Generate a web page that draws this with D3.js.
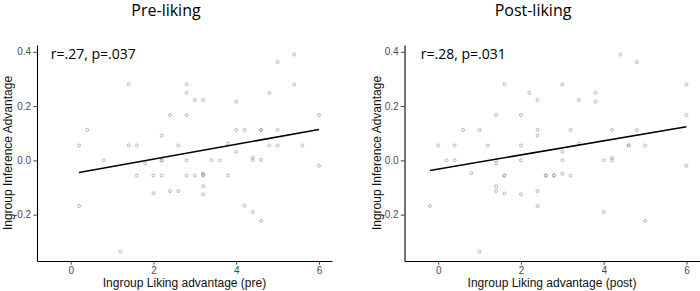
<!DOCTYPE html>
<html>
<head>
<meta charset="utf-8">
<script src="https://cdn.jsdelivr.net/npm/d3@7"></script>
<style>
  html, body { margin: 0; padding: 0; background: #fff; }
  svg { display: block; }
</style>
</head>
<body>
<svg id="chart" width="700" height="291"></svg>
<script>
// ---------- DATA ----------
const panelTitles = ["Pre-liking", "Post-liking"];
const xTitles = ["Ingroup Liking advantage (pre)", "Ingroup Liking advantage (post)"];
const yTitle = "Ingroup Inference Advantage";
const annotations = ["r=.27, p=.037", "r=.28, p=.031"];
const xTicks = [0, 2, 4, 6];
const yTicks = [-0.2, 0.0, 0.2, 0.4];
const yTickLabels = ["-0.2", "0.0", "0.2", "0.4"];

const preX = [0.2, 0.2, 0.4, 0.8, 1.2, 1.4, 1.4, 1.6, 1.6, 1.8, 2.0, 2.0, 2.2, 2.2, 2.2, 2.2, 2.4, 2.4, 2.6, 2.6,
  2.8, 2.8, 2.8, 2.8, 2.8, 3.0, 3.0, 3.2, 3.2, 3.2, 3.2, 3.2, 3.2, 3.4, 3.6, 3.8, 3.8, 4.0, 4.0, 4.0,
  4.2, 4.2, 4.4, 4.4, 4.4, 4.6, 4.6, 4.6, 4.6, 4.8, 4.8, 5.0, 5.0, 5.0, 5.4, 5.4, 5.6, 6.0, 6.0];
const preY = [0.055, -0.168, 0.112, 0.0, -0.336, 0.28, 0.055, 0.055, -0.056, -0.011, -0.056, -0.121, 0.091, 0.0, 0.0, -0.056, 0.167, -0.113, 0.055, -0.113,
  0.28, 0.249, 0.167, 0.0, -0.056, 0.222, -0.056, 0.222, -0.048, -0.053, -0.056, -0.095, -0.125, 0.0, 0.0, 0.062, -0.056, 0.216, 0.112, 0.032,
  0.112, -0.167, 0.01, 0.0, -0.19, 0.112, 0.112, 0.002, -0.223, 0.249, 0.055, 0.362, 0.112, 0.055, 0.39, 0.28, 0.055, 0.167, -0.02];

const postX = [-0.2, 0.0, 0.2, 0.4, 0.4, 0.6, 0.8, 1.0, 1.0, 1.2, 1.4, 1.4, 1.4, 1.4, 1.4, 1.6, 1.6, 1.6, 1.6, 2.0,
  2.0, 2.0, 2.0, 2.2, 2.4, 2.4, 2.4, 2.4, 2.4, 2.6, 2.6, 2.8, 2.8, 3.0, 3.0, 3.0, 3.0, 3.2, 3.2, 3.4,
  3.4, 3.8, 3.8, 4.0, 4.0, 4.2, 4.2, 4.2, 4.4, 4.6, 4.6, 4.8, 4.8, 5.0, 5.0, 6.0, 6.0, 6.0];
const postY = [-0.168, 0.055, 0.0, 0.055, 0.0, 0.112, -0.047, 0.112, -0.336, 0.055, 0.167, 0.0, -0.011, -0.095, -0.113, 0.28, -0.056, -0.056, -0.122, 0.167,
  0.055, 0.0, -0.125, 0.249, 0.222, 0.112, 0.091, -0.113, -0.168, -0.056, -0.056, -0.056, -0.056, 0.28, 0.032, 0.0, -0.049, 0.112, -0.056, 0.222,
  0.062, 0.249, 0.216, 0.0, -0.19, 0.112, 0.01, 0.0, 0.39, 0.055, 0.055, 0.362, 0.112, 0.055, -0.223, 0.28, 0.167, -0.02];

// fitted regression line endpoints
const preFitX = [0.2, 6.0];
const preFitY = [-0.045, 0.114];
const postFitX = [-0.2, 6.0];
const postFitY = [-0.037, 0.124];

// annotation anchor (data coords)
const annotX = [-0.48, -0.42];
const annotY = [0.373, 0.373];

const xDomain = [-0.815, 6.315];
const yDomain = [-0.3706, 0.425];

// ---------- DRAW ----------
const svg = d3.select("#chart");

const panels = [
  { left: 37, x: preX, y: preY, fx: preFitX, fy: preFitY, titleX: 166, yTitleX: 8 },
  { left: 404.5, x: postX, y: postY, fx: postFitX, fy: postFitY, titleX: 533, yTitleX: 377 }
];
const plotW = 295, plotTop = 45, plotBottom = 261;

panels.forEach((p, i) => {
  const g = svg.append("g");
  const x = d3.scaleLinear().domain(xDomain).range([p.left, p.left + plotW]);
  const y = d3.scaleLinear().domain(yDomain).range([plotBottom, plotTop]);

  // title
  g.append("text")
    .attr("x", p.titleX).attr("y", 16)
    .attr("text-anchor", "middle")
    .attr("font-family", "'Open Sans', sans-serif")
    .attr("font-size", 16)
    .attr("fill", "#000")
    .text(panelTitles[i]);

  // x axis
  const xAxis = d3.axisBottom(x).tickValues(xTicks).tickFormat(d3.format("d")).tickSizeInner(3.7).tickSizeOuter(0).tickPadding(2.5);
  const gx = g.append("g").attr("transform", `translate(0,${plotBottom})`).call(xAxis);
  // y axis
  const yAxis = d3.axisLeft(y).tickValues(yTicks).tickFormat((d, k) => yTickLabels[k]).tickSizeInner(3.7).tickSizeOuter(0).tickPadding(2.2);
  const gy = g.append("g").attr("transform", `translate(${p.left},0)`).call(yAxis);

  [gx, gy].forEach(a => {
    a.select(".domain").attr("stroke", "#000").attr("stroke-width", 1.1);
    a.selectAll(".tick line").attr("stroke", "#333").attr("stroke-width", 0.9);
    a.selectAll(".tick text")
      .attr("fill", "#4d4d4d")
      .attr("font-family", "'Liberation Sans', Arial, sans-serif")
      .attr("font-size", 10);
  });

  // axis titles
  g.append("text")
    .attr("x", p.left + plotW / 2).attr("y", 287)
    .attr("text-anchor", "middle")
    .attr("font-family", "'Liberation Sans', Arial, sans-serif")
    .attr("font-size", 12)
    .attr("fill", "#111")
    .text(xTitles[i]);
  g.append("text")
    .attr("transform", `translate(${p.yTitleX + 4.3},${(plotTop + plotBottom) / 2}) rotate(-90)`)
    .attr("text-anchor", "middle")
    .attr("font-family", "'Liberation Sans', Arial, sans-serif")
    .attr("font-size", 12)
    .attr("fill", "#111")
    .text(yTitle);

  // points
  g.append("g").selectAll("circle")
    .data(p.x.map((v, k) => [v, p.y[k]]))
    .join("circle")
    .attr("cx", d => x(d[0]))
    .attr("cy", d => y(d[1]))
    .attr("r", 1.5)
    .attr("fill", "none")
    .attr("stroke", "#8c8c8c")
    .attr("stroke-width", 0.6);

  // fit line
  g.append("path")
    .datum(p.fx.map((v, k) => [v, p.fy[k]]))
    .attr("d", d3.line().x(d => x(d[0])).y(d => y(d[1])))
    .attr("fill", "none")
    .attr("stroke", "#000")
    .attr("stroke-width", 1.5);

  // annotation
  g.append("text")
    .attr("x", x(annotX[i])).attr("y", y(annotY[i]))
    .attr("font-family", "'Open Sans', sans-serif")
    .attr("font-size", 14)
    .attr("fill", "#000")
    .text(annotations[i]);
});
</script>
</body>
</html>
